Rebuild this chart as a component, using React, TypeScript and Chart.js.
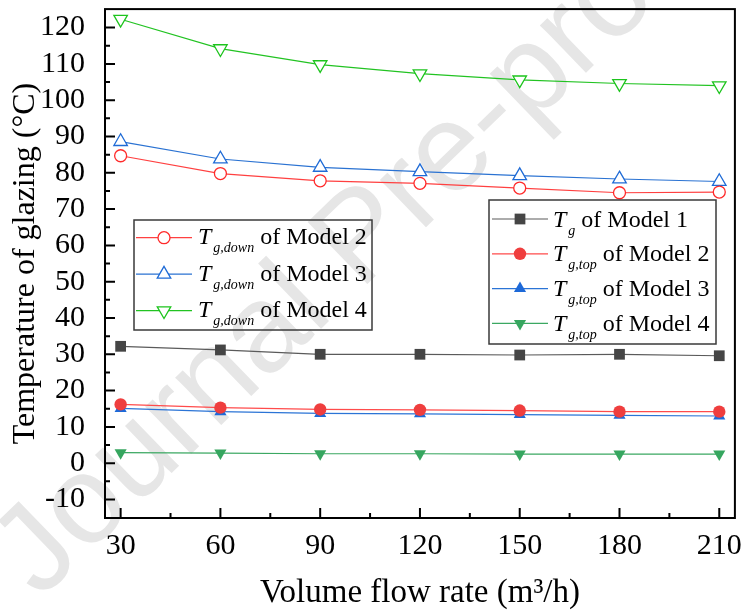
import React, { useEffect, useRef } from "react";
import { Chart, registerables } from "chart.js";
import { drawPoint } from "chart.js/helpers";

Chart.register(...registerables);

const SERIF = '"Liberation Serif", "Times New Roman", serif';

// ---- data ----
const flowRates = [30, 60, 90, 120, 150, 180, 210];
const tgModel1 = [32.2, 31.2, 30.0, 30.0, 29.8, 30.0, 29.6];
const tgTopModel2 = [16.2, 15.3, 14.8, 14.7, 14.5, 14.2, 14.2];
const tgTopModel3 = [15.1, 14.2, 13.7, 13.6, 13.4, 13.2, 13.0];
const tgTopModel4 = [2.9, 2.8, 2.6, 2.6, 2.5, 2.5, 2.5];
const tgDownModel2 = [84.7, 79.8, 77.8, 77.1, 75.8, 74.5, 74.7];
const tgDownModel3 = [88.6, 83.8, 81.5, 80.3, 79.2, 78.3, 77.6];
const tgDownModel4 = [122.3, 114.2, 109.8, 107.3, 105.6, 104.6, 104.0];

const xTickValues = [30, 60, 90, 120, 150, 180, 210];
const xMinorValues = [45, 75, 105, 135, 165, 195];
const yTickValues = [-10, 0, 10, 20, 30, 40, 50, 60, 70, 80, 90, 100, 110, 120];
const yMinorValues = [-5, 5, 15, 25, 35, 45, 55, 65, 75, 85, 95, 105, 115];

const seriesSubscripts = ["g", "g,top", "g,top", "g,top", "g,down", "g,down", "g,down"];
const seriesModels = ["Model 1", "Model 2", "Model 3", "Model 4", "Model 2", "Model 3", "Model 4"];
const seriesValues = [tgModel1, tgTopModel2, tgTopModel3, tgTopModel4, tgDownModel2, tgDownModel3, tgDownModel4];
const rightLegendSeries = [0, 1, 2, 3];
const leftLegendSeries = [4, 5, 6];

const xTitle = "Volume flow rate (m\u00B3/h)";
const yTitle = "Temperature of glazing (\u00B0C)";
const watermarkText = "Journal Pre-proof";

// ---- styles ----
const seriesStyles = [
  { line: "#5a5a5a", fill: "#454545", stroke: "#454545", style: "rect", r: 7.6, rot: 0, bw: 0 },
  { line: "#FF4B4B", fill: "#EF3E3E", stroke: "#EF3E3E", style: "circle", r: 6.2, rot: 0, bw: 0 },
  { line: "#2B74D6", fill: "#1D69D8", stroke: "#1D69D8", style: "triangle", r: 7.0, rot: 0, bw: 0 },
  { line: "#3BA862", fill: "#36A65F", stroke: "#36A65F", style: "triangle", r: 7.0, rot: 180, bw: 0 },
  { line: "#FF4040", fill: "#ffffff", stroke: "#FF2A2A", style: "circle", r: 6.0, rot: 0, bw: 1.3 },
  { line: "#2A72D2", fill: "#ffffff", stroke: "#1F6BD6", style: "triangle", r: 7.8, rot: 0, bw: 1.3 },
  { line: "#22C322", fill: "#ffffff", stroke: "#1DC41D", style: "triangle", r: 7.8, rot: 180, bw: 1.3 },
];

function drawRichLabel(ctx: CanvasRenderingContext2D, x: number, y: number, sub: string, rest: string) {
  ctx.fillStyle = "#000";
  ctx.textAlign = "left";
  ctx.textBaseline = "alphabetic";
  ctx.font = `italic 24px ${SERIF}`;
  ctx.fillText("T", x, y);
  x += ctx.measureText("T").width + 2;
  ctx.font = `italic 14px ${SERIF}`;
  ctx.fillText(sub, x, y + 8);
  x += ctx.measureText(sub).width;
  ctx.font = `24px ${SERIF}`;
  ctx.fillText(" of " + rest, x, y);
}

function drawLegendBox(
  ctx: CanvasRenderingContext2D,
  chart: any,
  series: number[],
  box: { x: number; y: number; w: number; h: number },
  firstRow: number,
  rowGap: number,
  lineX0: number,
  lineX1: number,
  textX: number,
  baseOff: number
) {
  ctx.save();
  ctx.strokeStyle = "#3a3a3a";
  ctx.lineWidth = 1.5;
  ctx.strokeRect(box.x, box.y, box.w, box.h);
  series.forEach((si, k) => {
    const ds = chart.data.datasets[si];
    const y = firstRow + k * rowGap;
    ctx.strokeStyle = ds.borderColor;
    ctx.lineWidth = 1.2;
    ctx.beginPath();
    ctx.moveTo(lineX0, y);
    ctx.lineTo(lineX1, y);
    ctx.stroke();
    ctx.fillStyle = ds.pointBackgroundColor;
    ctx.strokeStyle = ds.pointBorderColor;
    ctx.lineWidth = ds.pointBorderWidth;
    drawPoint(
      ctx,
      { pointStyle: ds.pointStyle, rotation: ds.pointRotation, radius: ds.pointRadius, borderWidth: ds.pointBorderWidth } as any,
      (lineX0 + lineX1) / 2,
      y
    );
    drawRichLabel(ctx, textX, y + baseOff, seriesSubscripts[si], seriesModels[si]);
  });
  ctx.restore();
}

const customPlugin = {
  id: "customFrame",
  beforeDraw(chart: any) {
    const ctx: CanvasRenderingContext2D = chart.ctx;
    ctx.save();
    ctx.fillStyle = "#ffffff";
    ctx.fillRect(0, 0, chart.width, chart.height);
    ctx.translate(40, 600);
    ctx.rotate((-44 * Math.PI) / 180);
    ctx.font = `125px "Liberation Sans", Arial, sans-serif`;
    ctx.fillStyle = "#e6e6e6";
    ctx.textAlign = "left";
    ctx.textBaseline = "alphabetic";
    ctx.fillText(watermarkText, 0, 0);
    ctx.restore();
  },
  beforeDatasetsDraw(chart: any) {
    const ctx: CanvasRenderingContext2D = chart.ctx;
    const { left, right, top, bottom } = chart.chartArea;
    const xs = chart.scales.x;
    const ys = chart.scales.y;
    ctx.save();
    ctx.strokeStyle = "#000";
    ctx.lineWidth = 2;
    ctx.strokeRect(left, top, right - left, bottom - top);
    ctx.beginPath();
    xTickValues.forEach((v) => {
      const px = xs.getPixelForValue(v);
      ctx.moveTo(px, bottom);
      ctx.lineTo(px, bottom - 10);
    });
    xMinorValues.forEach((v) => {
      const px = xs.getPixelForValue(v);
      ctx.moveTo(px, bottom);
      ctx.lineTo(px, bottom - 5);
    });
    yTickValues.forEach((v) => {
      const py = ys.getPixelForValue(v);
      ctx.moveTo(left, py);
      ctx.lineTo(left + 10, py);
    });
    yMinorValues.forEach((v) => {
      const py = ys.getPixelForValue(v);
      ctx.moveTo(left, py);
      ctx.lineTo(left + 5, py);
    });
    ctx.stroke();
    ctx.restore();
  },
  afterDatasetsDraw(chart: any) {
    const ctx: CanvasRenderingContext2D = chart.ctx;
    drawLegendBox(ctx, chart, leftLegendSeries, { x: 134, y: 220, w: 238, h: 110 }, 237.7, 36.5, 136, 192, 198, 6.5);
    drawLegendBox(ctx, chart, rightLegendSeries, { x: 489, y: 200, w: 227, h: 144 }, 219, 34.8, 492, 548, 553, 7.5);
  },
};

export default function App() {
  const canvasRef = useRef<HTMLCanvasElement | null>(null);

  useEffect(() => {
    document.body.style.margin = "0";
    const canvas = canvasRef.current;
    if (!canvas) return;

    const datasets = seriesValues.map((vals, i) => {
      const s = seriesStyles[i];
      return {
        label: `T${seriesSubscripts[i]} of ${seriesModels[i]}`,
        data: flowRates.map((x, j) => ({ x, y: vals[j] })),
        borderColor: s.line,
        borderWidth: 1.2,
        backgroundColor: s.fill,
        pointStyle: s.style,
        pointRadius: s.r,
        pointRotation: s.rot,
        pointBackgroundColor: s.fill,
        pointBorderColor: s.stroke,
        pointBorderWidth: s.bw,
        tension: 0,
        fill: false,
      };
    });

    const tickFont = { family: SERIF, size: 30 };
    const titleFont = { family: SERIF, size: 33 };

    const chart = new Chart(canvas, {
      type: "line",
      data: { datasets: datasets as any },
      options: {
        animation: false,
        responsive: false,
        layout: { padding: { top: 8, right: 8, left: 0, bottom: 0 } },
        plugins: { legend: { display: false }, tooltip: { enabled: false } },
        scales: {
          x: {
            type: "linear",
            min: 25.3,
            max: 214.7,
            grid: { display: false },
            border: { display: false },
            ticks: { font: tickFont, color: "#000", padding: 2, autoSkip: false, maxRotation: 0 },
            title: { display: true, text: xTitle, font: titleFont, color: "#000", padding: { top: 0, bottom: 0 } },
            afterBuildTicks: (s: any) => {
              s.ticks = xTickValues.map((v) => ({ value: v }));
            },
            afterFit: (s: any) => {
              s.height = 95;
              s.paddingLeft = 0;
              s.paddingRight = 0;
            },
          },
          y: {
            type: "linear",
            min: -15.1,
            max: 125.1,
            grid: { display: false },
            border: { display: false },
            ticks: { font: tickFont, color: "#000", padding: 12, autoSkip: false },
            title: { display: true, text: yTitle, font: { family: SERIF, size: 32 }, color: "#000", padding: { top: 6, bottom: 0 } },
            afterBuildTicks: (s: any) => {
              s.ticks = yTickValues.map((v) => ({ value: v }));
            },
            afterFit: (s: any) => {
              s.width = 105;
              s.paddingTop = 0;
              s.paddingBottom = 0;
            },
          },
        },
      } as any,
      plugins: [customPlugin as any],
    });

    return () => chart.destroy();
  }, []);

  return (
    <div style={{ width: 744, height: 613, background: "#fff" }}>
      <canvas ref={canvasRef} width={744} height={613} />
    </div>
  );
}
